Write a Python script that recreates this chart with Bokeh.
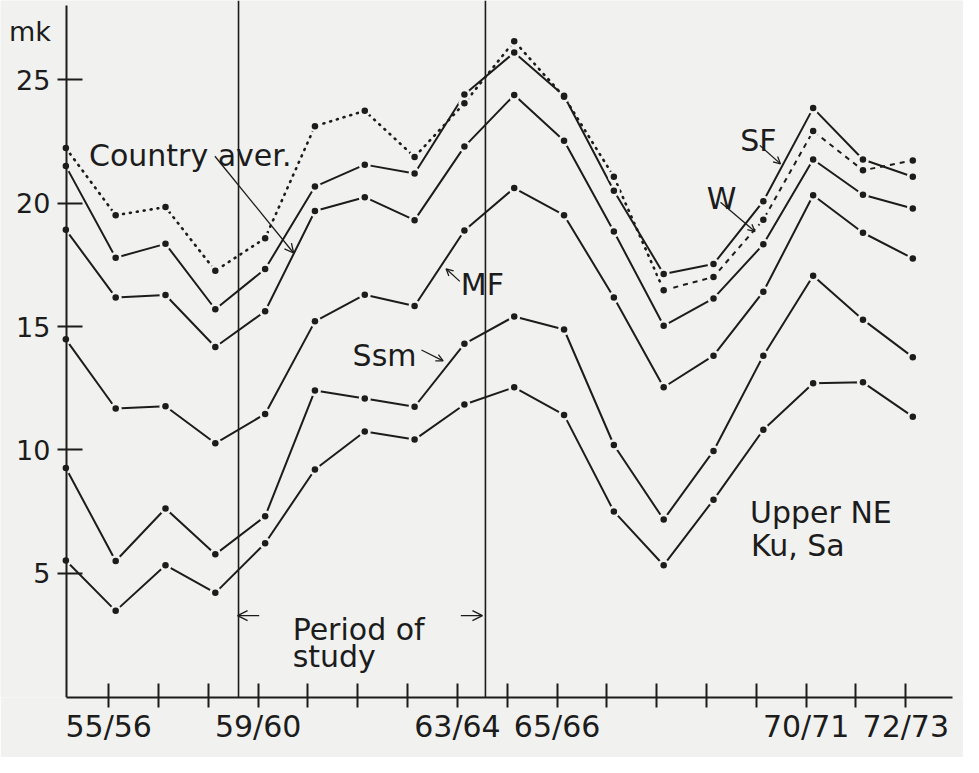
from bokeh.plotting import figure
from bokeh.models import Arrow, OpenHead, Label, Span, FixedTicker, ColumnDataSource
from bokeh.embed import file_html
from bokeh.resources import INLINE

# ---------------- data ----------------
years_idx = list(range(18))          # successive years of observation
sf = [21.5, 17.79, 18.35, 15.70, 17.33, 20.67, 21.56, 21.20, 24.40, 26.10, 24.35, 20.50, 17.13, 17.53, 20.08, 23.85, 21.77, 21.07]
w = [22.23, 19.51, 19.84, 17.26, 18.58, 23.12, 23.74, 21.87, 24.05, 26.56, 24.31, 21.07, 16.47, 17.01, 19.33, 22.92, 21.33, 21.73]
country = [18.92, 16.18, 16.28, 14.17, 15.62, 19.68, 20.24, 19.31, 22.29, 24.38, 22.53, 18.85, 15.03, 16.14, 18.33, 21.77, 20.34, 19.78]
mf = [14.48, 11.68, 11.77, 10.27, 11.46, 15.21, 16.29, 15.83, 18.89, 20.61, 19.51, 16.18, 12.54, 13.82, 16.41, 20.32, 18.80, 17.76]
ssm = [9.27, 5.50, 7.63, 5.77, 7.31, 12.41, 12.08, 11.75, 14.30, 15.41, 14.88, 10.20, 7.18, 9.96, 13.82, 17.06, 15.28, 13.76]
upper_ne = [5.52, 3.48, 5.33, 4.21, 6.22, 9.21, 10.75, 10.42, 11.84, 12.54, 11.42, 7.51, 5.33, 7.98, 10.82, 12.70, 12.74, 11.35]

x_ticks = list(range(1, 18))
x_tick_labels = {1: "55/56", 4: "59/60", 8: "63/64", 10: "65/66", 15: "70/71", 17: "72/73"}
y_ticks = [5, 10, 15, 20, 25]
period_bounds = [3.606, 8.562]

# ---------------- style ----------------
BG = "#f1f1ef"
INK = "#1c1c1c"
FONT = "DejaVu Sans"
SHIFT = 0.14
AX_X0 = 0.151
AX_X1 = 17.94
AX_Y1 = 28.0

xs = [i + SHIFT for i in years_idx]

p = figure(width=963, height=757, output_backend="svg", toolbar_location=None,
           x_range=(-1.1718, 18.158), y_range=(-0.03, 28.21),
           min_border_left=0, min_border_right=0, min_border_top=0, min_border_bottom=60)
p.background_fill_color = BG
p.border_fill_color = BG
p.outline_line_color = None
p.grid.visible = False

# axes
p.xaxis.ticker = FixedTicker(ticks=x_ticks)
p.xaxis.major_label_overrides = {t: x_tick_labels.get(t, "") for t in x_ticks}
p.xaxis.bounds = (AX_X0, AX_X1)
p.yaxis.ticker = FixedTicker(ticks=y_ticks)
p.yaxis.fixed_location = AX_X0
p.yaxis.bounds = (-0.03, AX_Y1)
for ax in (p.xaxis, p.yaxis):
    ax.axis_line_width = 2
    ax.axis_line_color = INK
    ax.major_tick_line_width = 2
    ax.major_tick_line_color = INK
    ax.minor_tick_line_color = None
    ax.major_label_text_font = FONT
    ax.major_label_text_color = INK
p.xaxis.major_tick_in = 14
p.xaxis.major_tick_out = 10
p.xaxis.major_label_standoff = 1
p.xaxis.major_label_text_font_size = "30px"
p.yaxis.major_tick_in = 16
p.yaxis.major_tick_out = 9
p.yaxis.major_label_standoff = 7
p.yaxis.major_label_text_font_size = "27px"

# period of study vertical lines
for b in period_bounds:
    p.add_layout(Span(location=b, dimension="height", line_color=INK, line_width=1.6))

# series lines
solid_series = [sf, country, mf, ssm, upper_ne]
for s in solid_series:
    p.line(xs, s, line_color=INK, line_width=2)
# W: dotted left part, dashed right part
p.line(xs[:13], w[:13], line_color=INK, line_width=2.6, line_dash="1 6", line_cap="round")
p.line(xs[12:], w[12:], line_color=INK, line_width=2, line_dash="5 5")

# markers with small gap
for s in solid_series + [w]:
    src = ColumnDataSource(dict(x=xs, y=s))
    p.scatter("x", "y", source=src, size=12, fill_color=BG, line_color=None)
for s in solid_series + [w]:
    src = ColumnDataSource(dict(x=xs, y=s))
    p.scatter("x", "y", source=src, size=6.5, fill_color=INK, line_color=None)

# text annotations
def lab(x, y, text, size="30px"):
    p.add_layout(Label(x=x, y=y, text=text, text_font=FONT, text_font_size=size,
                       text_color=INK, text_baseline="alphabetic", text_align="left"))

lab(-1.0, 26.95, "mk", "27px")
lab(0.605, 21.94, "Country aver.")
lab(8.068, 16.71, "MF")
lab(5.896, 13.81, "Ssm")
lab(13.675, 22.54, "SF")
lab(13.004, 20.20, "W")
lab(13.873, 7.46, "Upper NE")
lab(13.892, 6.11, "Ku, Sa")
lab(4.692, 2.74, "Period of")
lab(4.692, 1.63, "study")

def arr(x0, y0, x1, y1, size=9, lw=1.3):
    p.add_layout(Arrow(end=OpenHead(size=size, line_width=lw, line_color=INK),
                       x_start=x0, y_start=y0, x_end=x1, y_end=y1,
                       line_width=lw, line_color=INK))

arr(3.132, 21.90, 4.712, 17.98)
arr(8.048, 16.83, 7.772, 17.34, size=7)
arr(7.278, 14.05, 7.713, 13.61, size=7)
arr(14.070, 22.34, 14.485, 21.59, size=7)
arr(13.281, 20.04, 13.972, 18.85, size=7)
arr(4.021, 3.29, 3.587, 3.29, size=10)
arr(8.068, 3.29, 8.502, 3.29, size=10)

open("out.html", "w").write(file_html(p, INLINE))
